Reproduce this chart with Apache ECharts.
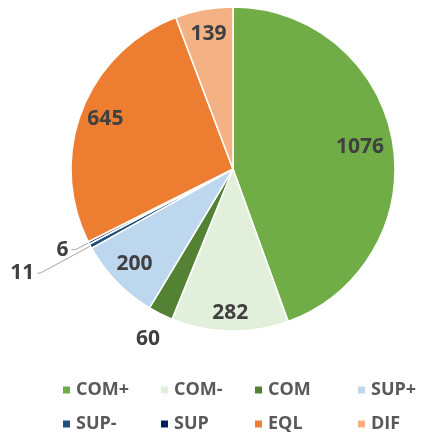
<!DOCTYPE html>
<html>
<head>
<meta charset="utf-8">
<script src="https://cdn.jsdelivr.net/npm/echarts@6/dist/echarts.min.js"></script>
<style>
html,body{margin:0;padding:0;background:#fff;}
#chart{width:422px;height:432px;}
</style>
</head>
<body>
<div id="chart"></div>
<script>
const categories = ['COM+', 'COM-', 'COM', 'SUP+', 'SUP-', 'SUP', 'EQL', 'DIF'];
const values = [1076, 282, 60, 200, 11, 6, 645, 139];
const colors = ['#70AD47', '#E2EFDA', '#548235', '#BDD7EE', '#1F4E79', '#002060', '#ED7D31', '#F4B183'];

// label placement groups (ring radii chosen so that the label sits at ring middle)
const labelRings = [
  { names: ['COM+'], radius: [100, 152] },
  { names: ['COM-'], radius: [120, 162] },
  { names: ['SUP+', 'EQL', 'DIF'], radius: [106, 162] },
  { names: ['COM'], radius: [176, 198] }
];
const calloutNames = ['SUP-', 'SUP'];

const FONT = '"Open Sans", "Liberation Sans", sans-serif';
const labelText = { fontFamily: FONT, fontWeight: 'bold', fontSize: 21, color: '#404040' };

const calloutStyle = {
  'SUP-': { length: 57, length2: 3 },
  'SUP': { length: 15, length2: 4 }
};

const center = [233, 169];

const mainData = categories.map((name, i) => {
  const item = { name: name, value: values[i], itemStyle: { color: colors[i] } };
  if (calloutNames.includes(name)) {
    item.label = { show: true, position: 'outside', distanceToLabelLine: 3 };
    item.labelLine = Object.assign({ show: true }, calloutStyle[name]);
  }
  return item;
});

function overlayData(showNames) {
  return categories.map((name, i) => ({
    name: name,
    value: values[i],
    label: { show: showNames.includes(name) }
  }));
}

const overlayBase = {
  type: 'pie',
  center: center,
  silent: true,
  startAngle: 90,
  clockwise: true,
  avoidLabelOverlap: false,
  itemStyle: { color: 'rgba(0,0,0,0)', borderWidth: 0 },
  label: Object.assign({ position: 'inside', formatter: '{c}' }, labelText),
  labelLine: { show: false },
  emphasis: { disabled: true },
  animation: false
};

const legendGroups = [
  { left: 61, data: ['COM+', 'SUP-'] },
  { left: 159, data: ['COM-', 'SUP'] },
  { left: 253, data: ['COM', 'EQL'] },
  { left: 356, data: ['SUP+', 'DIF'] }
];

const chart = echarts.init(document.getElementById('chart'), null, { renderer: 'canvas' });
chart.setOption({
  backgroundColor: '#ffffff',
  animation: false,
  legend: legendGroups.map(g => ({
    orient: 'vertical',
    left: g.left,
    top: 381,
    height: 70,
    padding: 0,
    itemGap: 16,
    itemWidth: 9,
    itemHeight: 9,
    icon: 'rect',
    selectedMode: false,
    data: g.data,
    textStyle: { fontFamily: FONT, fontWeight: 'bold', fontSize: 18, color: '#595959' }
  })),
  series: [
    {
      type: 'pie',
      name: 'main',
      center: center,
      radius: 162,
      startAngle: 90,
      clockwise: true,
      avoidLabelOverlap: false,
      itemStyle: { borderColor: '#ffffff', borderWidth: 1.5 },
      label: Object.assign({ show: false, formatter: '{c}' }, labelText),
      labelLine: { show: false, lineStyle: { color: '#A6A6A6', width: 1 }, smooth: false },
      emphasis: { disabled: true },
      data: mainData
    }
  ].concat(labelRings.map((ring, k) => Object.assign({}, overlayBase, {
    name: 'labels' + k,
    radius: ring.radius,
    data: overlayData(ring.names)
  })))
});
</script>
</body>
</html>
